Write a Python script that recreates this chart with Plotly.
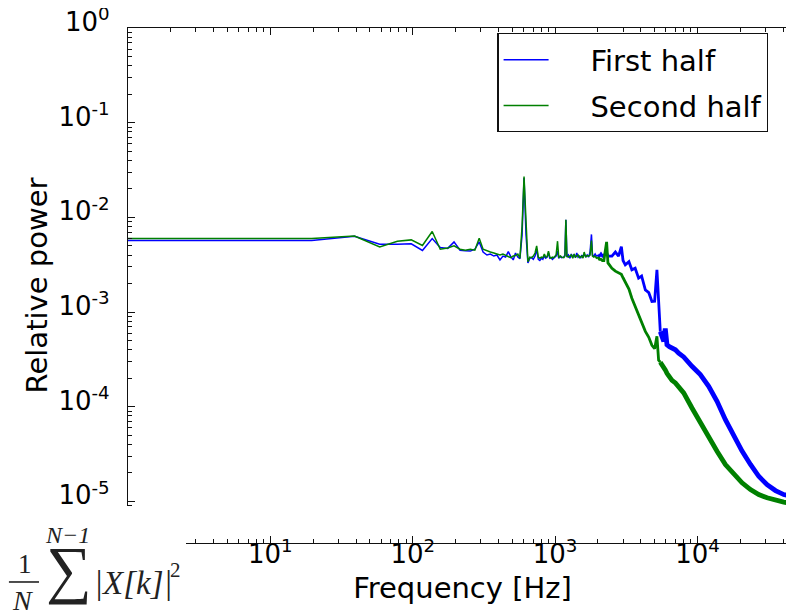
import plotly.graph_objects as go

# ---------------- data ----------------
freq_hz = [
    1, 19.5, 39, 58.6, 78, 97.6, 117, 137, 156, 176,
    195, 215, 234, 254, 273, 293, 312, 332, 351, 371,
    390, 410, 430, 449, 469, 488, 508, 527, 547, 566,
    586, 605, 625, 644, 664, 683, 703, 723, 742, 762,
    781, 801, 820, 840, 859, 879, 898, 918, 938, 957,
    977, 996, 1016, 1040, 1060, 1090, 1110, 1150, 1172, 1190,
    1210, 1240, 1270, 1300, 1330, 1360, 1390, 1420, 1450, 1480,
    1510, 1540, 1570, 1600, 1640, 1680, 1720, 1760, 1800, 1830,
    1870, 1910, 1950, 2000, 2050, 2100, 2150, 2200, 2300, 2350,
    2506, 2650, 2790, 2920, 3000, 3111, 3300, 3460, 3650, 3857,
    4050, 4303, 4550, 4786, 5000, 5190, 5333, 5480, 5623, 5800,
    5940, 6105, 6350, 6621, 6998, 7380, 8000, 9150, 10470, 11990,
    13720, 15710, 17990, 20560, 23560, 26930, 30830, 35300, 40360, 46240,
    50000,
]

first_half = [
    5.69e-3, 5.69e-3, 6.32e-3, 5.20e-3, 5.20e-3, 5.25e-3, 4.47e-3, 5.97e-3, 4.80e-3, 4.70e-3,
    5.50e-3, 4.50e-3, 4.45e-3, 4.40e-3, 4.60e-3, 5.50e-3, 4.30e-3, 4.00e-3, 4.10e-3, 3.90e-3,
    4.00e-3, 3.55e-3, 3.90e-3, 3.80e-3, 4.35e-3, 3.85e-3, 3.55e-3, 4.20e-3, 3.80e-3, 3.65e-3,
    6.50e-3, 2.60e-2, 6.50e-3, 3.30e-3, 3.70e-3, 3.75e-3, 3.60e-3, 3.90e-3, 4.60e-3, 3.60e-3,
    3.50e-3, 3.70e-3, 3.60e-3, 3.90e-3, 3.70e-3, 3.80e-3, 4.20e-3, 3.70e-3, 3.75e-3, 3.60e-3,
    3.70e-3, 3.80e-3, 3.90e-3, 4.40e-3, 3.70e-3, 3.85e-3, 3.75e-3, 3.80e-3, 4.00e-3, 9.40e-3,
    3.80e-3, 4.00e-3, 3.70e-3, 4.10e-3, 3.80e-3, 4.00e-3, 3.75e-3, 4.20e-3, 3.80e-3, 3.90e-3,
    3.70e-3, 4.00e-3, 3.80e-3, 4.10e-3, 3.85e-3, 4.00e-3, 3.80e-3, 4.30e-3, 6.60e-3, 4.00e-3,
    3.90e-3, 4.10e-3, 3.90e-3, 4.00e-3, 3.90e-3, 4.10e-3, 3.90e-3, 4.00e-3, 4.20e-3, 3.90e-3,
    3.90e-3, 4.30e-3, 3.89e-3, 4.90e-3, 3.50e-3, 3.15e-3, 3.40e-3, 2.79e-3, 2.90e-3, 2.28e-3,
    2.40e-3, 1.71e-3, 1.60e-3, 1.29e-3, 1.30e-3, 2.79e-3, 1.10e-3, 6.20e-4, 5.31e-4, 4.90e-4,
    6.70e-4, 4.51e-4, 4.30e-4, 4.16e-4, 3.99e-4, 3.68e-4, 3.35e-4, 2.67e-4, 2.18e-4, 1.64e-4,
    1.14e-4, 7.29e-5, 4.88e-5, 3.39e-5, 2.45e-5, 1.84e-5, 1.50e-5, 1.30e-5, 1.18e-5, 1.13e-5,
    1.11e-5,
]

second_half = [
    5.97e-3, 5.97e-3, 6.35e-3, 4.87e-3, 5.60e-3, 5.78e-3, 5.04e-3, 7.08e-3, 4.60e-3, 4.75e-3,
    5.00e-3, 4.60e-3, 4.50e-3, 4.60e-3, 4.50e-3, 6.00e-3, 4.60e-3, 4.40e-3, 4.30e-3, 4.20e-3,
    4.10e-3, 4.00e-3, 4.10e-3, 4.00e-3, 3.90e-3, 3.75e-3, 3.90e-3, 3.95e-3, 4.10e-3, 3.70e-3,
    8.00e-3, 2.69e-2, 9.00e-3, 3.40e-3, 3.80e-3, 3.75e-3, 3.90e-3, 4.20e-3, 5.00e-3, 3.80e-3,
    3.70e-3, 3.80e-3, 3.75e-3, 4.10e-3, 3.80e-3, 3.85e-3, 4.40e-3, 3.80e-3, 3.70e-3, 3.80e-3,
    3.75e-3, 3.90e-3, 4.00e-3, 5.60e-3, 3.80e-3, 3.90e-3, 3.80e-3, 3.75e-3, 3.90e-3, 9.40e-3,
    3.90e-3, 3.80e-3, 3.90e-3, 4.00e-3, 3.70e-3, 4.10e-3, 3.80e-3, 3.90e-3, 4.00e-3, 3.75e-3,
    3.80e-3, 3.90e-3, 3.70e-3, 4.30e-3, 3.80e-3, 3.95e-3, 3.90e-3, 4.00e-3, 5.70e-3, 3.90e-3,
    3.80e-3, 3.90e-3, 3.70e-3, 3.80e-3, 3.60e-3, 3.60e-3, 3.50e-3, 3.50e-3, 5.50e-3, 3.30e-3,
    2.90e-3, 2.70e-3, 2.57e-3, 2.50e-3, 2.30e-3, 2.10e-3, 1.75e-3, 1.40e-3, 1.15e-3, 9.30e-4,
    7.80e-4, 6.24e-4, 5.40e-4, 4.45e-4, 4.10e-4, 5.53e-4, 3.10e-4, 2.95e-4, 2.80e-4, 2.60e-4,
    2.45e-4, 2.25e-4, 2.05e-4, 1.90e-4, 1.78e-4, 1.60e-4, 1.40e-4, 9.68e-5, 6.73e-5, 4.88e-5,
    3.39e-5, 2.45e-5, 1.92e-5, 1.57e-5, 1.33e-5, 1.18e-5, 1.09e-5, 1.02e-5, 9.81e-6, 9.48e-6,
    9.41e-6,
]

series_names = ["First half", "Second half"]
series_colors = ["#0000ff", "#008000"]

x_tick_vals = [1, 10, 100, 1000, 10000]
x_tick_text = ["10<sup>0</sup>", "10<sup>1</sup>", "10<sup>2</sup>", "10<sup>3</sup>", "10<sup>4</sup>"]
y_tick_vals = [1, 1e-1, 1e-2, 1e-3, 1e-4, 1e-5]
y_tick_text = ["10<sup>0</sup>", "10<sup>-1</sup>", "10<sup>-2</sup>", "10<sup>-3</sup>",
               "10<sup>-4</sup>", "10<sup>-5</sup>"]

# line drawn thicker where the spectrum is dense (band look)
segment_edges = [2000, 5480]
segment_widths = [1.5, 2.8, 4.8]

# ---------------- figure ----------------
fig = go.Figure()


def split(freqs, vals):
    out = []
    bounds = [freqs[0]] + segment_edges + [freqs[-1]]
    for a, b in zip(bounds[:-1], bounds[1:]):
        idx = [i for i, f in enumerate(freqs) if a <= f <= b]
        out.append(([freqs[i] for i in idx], [vals[i] for i in idx]))
    return out


PAD = "\u00a0" * 4  # gap between legend sample line and label, as in the reference
for name, color, vals in zip(series_names, series_colors, [first_half, second_half]):
    for k, ((fs, vs), w) in enumerate(zip(split(freq_hz, vals), segment_widths)):
        fig.add_trace(go.Scatter(
            x=fs, y=vs, mode="lines", name=PAD + name, legendgroup=name,
            showlegend=(k == 0), line=dict(color=color, width=w),
        ))

minor_x = [m * 10 ** e for e in range(0, 5) for m in range(2, 10)]
minor_y = [m * 10.0 ** e for e in range(-6, 0) for m in range(2, 10)]

axis_common = dict(
    showline=True, linecolor="#111", linewidth=1.3, mirror="allticks",
    ticks="inside", ticklen=7, tickwidth=1, tickcolor="#111",
    showgrid=False, zeroline=False, tickmode="array",
    ticklabeloverflow="allow", automargin=False,
)

fig.update_xaxes(
    type="log", range=[0, 4.699], tickvals=x_tick_vals, ticktext=x_tick_text,
    minor=dict(ticks="inside", ticklen=3.5, tickwidth=1, tickcolor="#111",
               tickmode="array", tickvals=minor_x, showgrid=False),
    title=dict(text="Frequency [Hz]", font=dict(size=29), standoff=9),
    ticklabelstandoff=-12,
    **axis_common,
)
fig.update_yaxes(
    type="log", range=[-5.44, 0], tickvals=y_tick_vals, ticktext=y_tick_text,
    minor=dict(ticks="inside", ticklen=3.5, tickwidth=1, tickcolor="#111",
               tickmode="array", tickvals=minor_y, showgrid=False),
    title=dict(text="Relative power", font=dict(size=29), standoff=2),
    ticklabelstandoff=12, ticklabelshift=-6,
    **axis_common,
)

# white patch with the formula (bottom-left corner of the reference)
fig.add_shape(type="rect", xref="paper", yref="paper", x0=-0.25, x1=0.0867,
              y0=-0.25, y1=0.0718, fillcolor="white", line=dict(width=0), layer="above")
fig.add_shape(type="line", xref="paper", yref="paper", x0=-0.178, x1=-0.133,
              y0=-0.0757, y1=-0.0757, line=dict(color="#222", width=1.6), layer="above")

serif = "Liberation Serif"
formula_parts = [
    ("1", -0.154, -0.0408, 27, "normal"),
    ("N", -0.157, -0.1107, 28, "italic"),
    ("\u2211", -0.0882, -0.051, 64, "normal"),
    ("N\u22121", -0.0897, 0.0150, 24, "italic"),
    ("k=0", -0.0897, -0.150, 24, "italic"),
    ("|X[k]|", 0.0075, -0.0780, 33, "italic"),
    ("2", 0.0717, -0.0520, 21, "normal"),
]
for txt, px, py, sz, style in formula_parts:
    fig.add_annotation(text=txt, xref="paper", yref="paper", x=px, y=py,
                       xanchor="center", yanchor="middle", showarrow=False,
                       font=dict(family=serif, size=sz, color="#222", style=style))

fig.update_layout(
    width=794, height=611,
    margin=dict(l=120, r=5, t=20, b=76),
    paper_bgcolor="white", plot_bgcolor="white",
    font=dict(family="DejaVu Sans", size=26, color="black"),
    legend=dict(x=0.552, y=0.990, xanchor="left", yanchor="top",
                bordercolor="#111", borderwidth=1.3, bgcolor="white",
                font=dict(size=29), tracegroupgap=5, itemwidth=45),
)

fig.write_html("out.html")
